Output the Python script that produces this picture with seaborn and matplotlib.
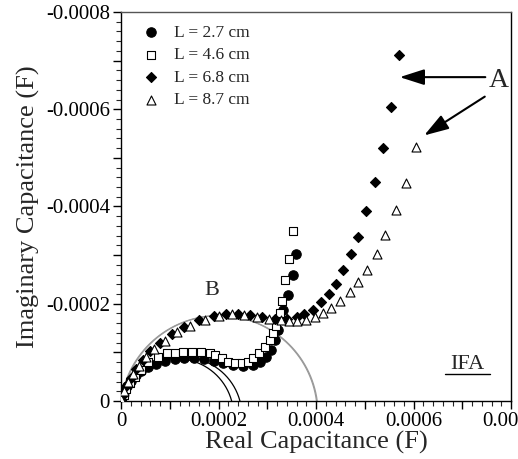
import numpy as np
import pandas as pd
import matplotlib
matplotlib.use("Agg")
import matplotlib.pyplot as plt
from matplotlib.ticker import MultipleLocator, FuncFormatter
import seaborn as sns

# real / imaginary capacitance (F)
re_27 = [0.000002, 0.000006, 0.000012, 0.00002, 0.00003, 0.000042, 0.000056, 0.000072, 0.00009,
         0.00011, 0.00013, 0.00015, 0.00017, 0.00019, 0.00021, 0.00023, 0.00025, 0.00027, 0.000285,
         0.000298, 0.000308, 0.000316, 0.000322, 0.000332, 0.000343, 0.000352, 0.000359]
im_27 = [-0.000008, -0.000018, -0.00003, -0.000042, -0.000053, -0.000062, -0.00007, -0.000077, -0.000082,
         -0.000086, -0.000088, -0.000088, -0.000086, -0.000083, -0.000078, -0.000074, -0.000072, -0.000074, -0.00008,
         -0.00009, -0.000105, -0.000125, -0.000145, -0.000187, -0.000218, -0.000259, -0.000302]

re_46 = [0.000003, 0.000006, 0.00001, 0.000018, 0.000029, 0.000041, 0.000056, 0.000075, 0.000094, 0.000111,
         0.000128, 0.000146, 0.000164, 0.000183, 0.000193, 0.000207, 0.00022, 0.000234, 0.000248, 0.000261,
         0.000271, 0.000284, 0.000295, 0.000306, 0.000312, 0.000318, 0.000323, 0.000326, 0.00033, 0.000336,
         0.000345, 0.000352]
im_46 = [-0.000006, -0.000012, -0.000024, -0.000036, -0.000049, -0.000064, -0.000081, -0.000091, -0.000098, -0.000099,
         -0.000101, -0.000101, -0.0001, -0.000098, -0.000095, -0.000088, -0.000081, -0.000079, -0.000079, -0.000081,
         -0.000088, -0.000098, -0.000112, -0.000125, -0.000139, -0.000155, -0.000168, -0.00018, -0.000205, -0.000249,
         -0.000291, -0.00035]

re_68 = [0.0, 0.000003, 0.00001, 0.00002, 0.00003, 0.000045, 0.00006, 0.00008, 0.000105, 0.00013, 0.00016,
         0.00019, 0.000215, 0.00024, 0.000265, 0.00029, 0.000315, 0.00034, 0.00036, 0.000376, 0.000393, 0.00041,
         0.000427, 0.000441, 0.000455, 0.000471, 0.000486, 0.000503, 0.00052, 0.000538, 0.000553, 0.000571]
im_68 = [0.0, -0.00001, -0.00003, -0.000048, -0.000065, -0.000085, -0.000102, -0.00012, -0.000138, -0.000152, -0.000166,
         -0.000174, -0.000178, -0.000179, -0.000177, -0.000172, -0.000169, -0.000168, -0.000172, -0.000178, -0.000188, -0.000204,
         -0.000221, -0.00024, -0.000269, -0.000303, -0.000338, -0.00039, -0.00045, -0.000521, -0.000605, -0.000712]

re_87 = [0.000001, 0.000006, 0.000015, 0.000025, 0.000036, 0.000052, 0.000068, 0.00009, 0.000115, 0.000142,
         0.000172, 0.000202, 0.000228, 0.000253, 0.000278, 0.000303, 0.000328, 0.000345, 0.000362, 0.000379,
         0.000397, 0.000414, 0.000431, 0.00045, 0.000469, 0.000486, 0.000505, 0.000526, 0.000542, 0.000564,
         0.000584, 0.000606]
im_87 = [-0.000005, -0.00002, -0.00004, -0.000056, -0.000072, -0.00009, -0.000106, -0.000124, -0.000141, -0.000155,
         -0.000167, -0.000175, -0.000178, -0.000176, -0.000172, -0.000168, -0.000166, -0.000164, -0.000164, -0.000167,
         -0.000173, -0.000181, -0.000192, -0.000206, -0.000224, -0.000245, -0.00027, -0.000303, -0.000342, -0.000393,
         -0.000448, -0.000523]

# fitted arcs: centre x, centre depth below axis, radius, colour
arc_cx = [0.0001135, 0.000127, 0.0002005, 0.000202]
arc_cd = [0.0000305, 0.000031, 0.0000266, 0.0000266]
arc_r = [0.0001175, 0.000121, 0.00020226, 0.00020226]
arc_col = ["black", "black", "#9a9a9a", "#9a9a9a"]

series = [
    ("L = 2.7 cm", re_27, im_27, "o", "black", 46),
    ("L = 4.6 cm", re_46, im_46, "s", "white", 40),
    ("L = 6.8 cm", re_68, im_68, "D", "black", 26),
    ("L = 8.7 cm", re_87, im_87, "^", "white", 42),
]

sns.set_style("ticks")
plt.rcParams["font.family"] = ["Liberation Serif", "DejaVu Serif"]

fig = plt.figure(figsize=(5.18, 4.59), dpi=100)
ax = fig.add_axes([0.2336, 0.1264, 0.7529, 0.8475])

for cx, cd, r, col in zip(arc_cx, arc_cd, arc_r, arc_col):
    t0 = np.arcsin(cd / r)
    t = np.linspace(t0, np.pi - t0, 200)
    ax.plot(cx + r * np.cos(t), -(r * np.sin(t) - cd), color=col, lw=0.9, zorder=1)

for label, xs, ys, mk, fc, s in series:
    df = pd.DataFrame({"re": xs, "im": ys})
    sns.scatterplot(data=df, x="re", y="im", marker=mk, s=s, color=fc,
                    edgecolor="black", linewidth=0.8, label=label, ax=ax, zorder=3)

ax.set_xlim(0, 0.0008)
ax.set_ylim(0, -0.0008)

fmt = FuncFormatter(lambda v, p: "0" if abs(v) < 1e-9 else
                    (f"{v:.4f}" if round(abs(v) / 0.0001) % 2 == 0 else ""))
for axis in (ax.xaxis, ax.yaxis):
    axis.set_major_locator(MultipleLocator(0.0001))
    axis.set_minor_locator(MultipleLocator(0.00002))
    axis.set_major_formatter(fmt)
ax.tick_params(which="major", direction="out", length=6, width=1, labelsize=15, pad=2, colors="black")
ax.tick_params(which="minor", direction="out", length=3.5, width=0.8)
for sp in ax.spines.values():
    sp.set_visible(True)
    sp.set_color("black")
    sp.set_linewidth(1)
ax.spines["top"].set_color("#555555")

ax.set_xlabel("Real Capacitance (F)", fontsize=19, labelpad=0)
ax.set_ylabel("Imaginary Capacitance (F)", fontsize=19, labelpad=4)

leg = ax.legend(loc="upper left", bbox_to_anchor=(0.038, 0.985), frameon=False, fontsize=12.5,
                handlelength=1.0, handletextpad=0.8, labelspacing=0.36, borderaxespad=0)

ax.text(0.000775, -0.00066, "A", fontsize=20, ha="center", va="center")
arrow = dict(arrowstyle="-|>,head_length=1.0,head_width=0.32", color="black", lw=1.5, mutation_scale=15)
ax.annotate("", xy=(0.000566, -0.000666), xytext=(0.000753, -0.000666), arrowprops=arrow)
ax.annotate("", xy=(0.000617, -0.000543), xytext=(0.000751, -0.000629), arrowprops=arrow)
ax.text(0.000187, -0.000228, "B", fontsize=16, ha="center", va="center")
ax.text(0.000711, -0.000074, "IFA", fontsize=16, ha="center", va="center")
ax.plot([0.000665, 0.000757], [-0.0000555, -0.0000555], color="black", lw=1)

fig.savefig("out.png", dpi=100)
